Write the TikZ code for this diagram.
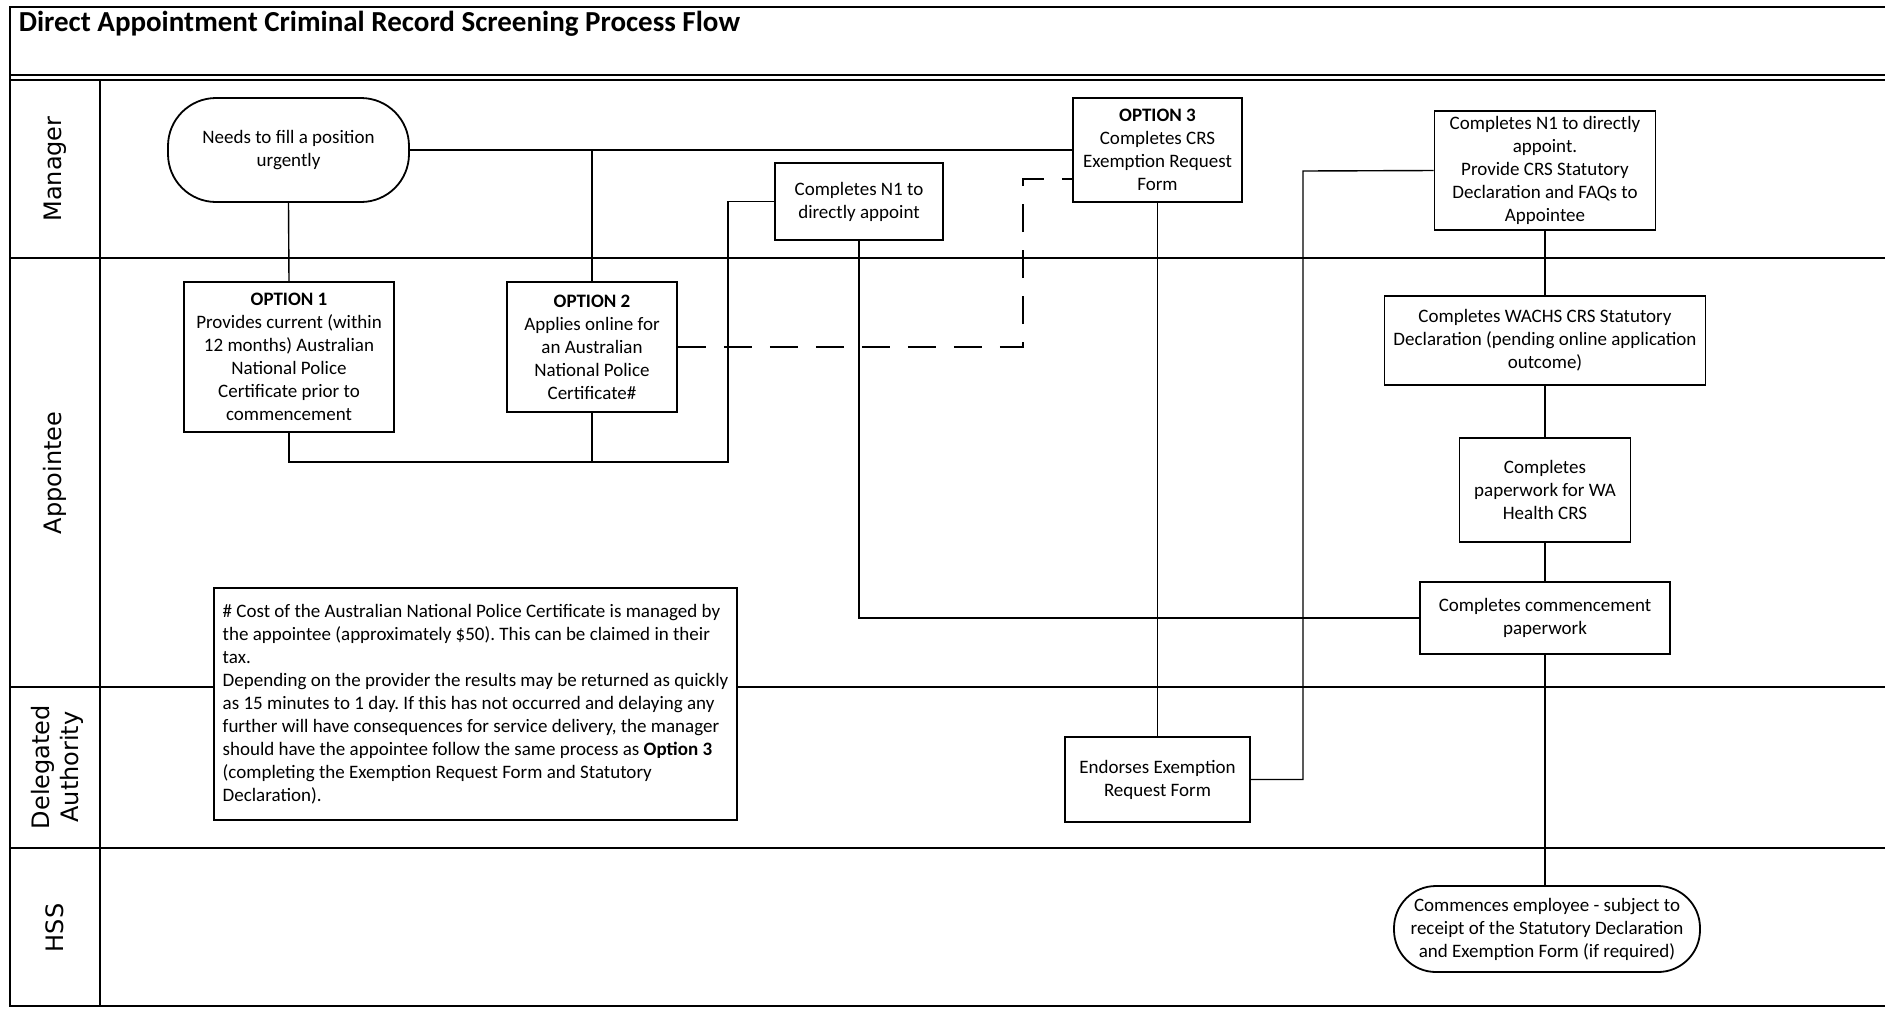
\documentclass[tikz,border=0pt]{standalone}
\usepackage{fontspec}
\setmainfont{Carlito}
\newfontfamily\lanefont{DejaVu Sans}
\frenchspacing

\tikzset{every picture/.style={line width=0.75pt}}
\tikzset{
  lane/.style={line width=1pt},
  procbox/.style={draw, line width=0.9pt, fill=white, align=center, inner sep=1pt,
    font=\fontsize{9.5}{11.5}\selectfont},
  termbox/.style={procbox, rounded corners=#1},
  flow/.style={line width=0.7pt},
  dashflow/.style={flow, dash pattern={on 14pt off 9pt}},
  lanetext/.style={rotate=90, align=center, font=\lanefont\fontsize{12}{14.5}\selectfont},
}

\begin{document}
\begin{tikzpicture}[x=0.5pt,y=0.5pt,yscale=-1,xscale=1]
\useasboundingbox (0,0) rectangle (1885,1008);

%Shape: Frame and swimlanes
\draw [lane] (1885,7) -- (10,7) -- (10,1006) -- (1885,1006) ;
\draw [lane] (10,75) -- (1885,75) ;
\draw [lane] (10,80) -- (1885,80) ;
\draw [lane] (100,80) -- (100,1006) ;
\draw [lane] (10,258) -- (1885,258) ;
\draw [lane] (10,687) -- (1885,687) ;
\draw [lane] (10,848) -- (1885,848) ;

% Text Node
\draw (18,31) node [anchor=base west] [inner sep=0pt] (title) {\fontsize{14.5}{17}\selectfont\bfseries Direct Appointment Criminal Record Screening Process Flow};
% Text Node
\draw (55,169) node [lanetext] (lmgr) {Manager};
% Text Node
\draw (55,473) node [lanetext] (lapp) {Appointee};
% Text Node
\draw (57,767) node [lanetext] (ldel) {Delegated\\Authority};
% Text Node
\draw (55,928) node [lanetext] (lhss) {HSS};

%Shape: Terminator
\draw (288.5,150) node [termbox=24pt, minimum width=120.5pt, minimum height=52pt] (start) {Needs to fill a position\\urgently};
%Shape: Rectangle
\draw (289,357) node [procbox, minimum width=105pt, minimum height=75pt] (opt1) {\textbf{OPTION 1}\\Provides current (within\\12 months) Australian\\National Police\\Certificate prior to\\commencement};
%Shape: Rectangle
\draw (592,347) node [procbox, minimum width=85pt, minimum height=65pt] (opt2) {\textbf{OPTION 2}\\Applies online for\\an Australian\\National Police\\Certificate\#};
%Shape: Rectangle
\draw (859,201.5) node [procbox, minimum width=84pt, minimum height=38.5pt] (n1) {Completes N1 to\\directly appoint};
%Shape: Rectangle
\draw (1157.5,150) node [procbox, minimum width=84.5pt, minimum height=52pt] (opt3) {\textbf{OPTION 3}\\Completes CRS\\Exemption Request\\Form};
%Shape: Rectangle
\draw (1545,170.5) node [procbox, minimum width=110.5pt, minimum height=59.5pt] (rbox) {Completes N1 to directly\\appoint.\\Provide CRS Statutory\\Declaration and FAQs to\\Appointee};
%Shape: Rectangle
\draw (1545,340.5) node [procbox, minimum width=160.5pt, minimum height=44.5pt] (wachs) {Completes WACHS CRS Statutory\\Declaration (pending online application\\outcome)};
%Shape: Rectangle
\draw (1545,490) node [procbox, minimum width=85.5pt, minimum height=52pt] (wahealth) {Completes\\paperwork for WA\\Health CRS};
%Shape: Rectangle
\draw (1545,618) node [procbox, minimum width=125pt, minimum height=36pt] (commence) {Completes commencement\\paperwork};
%Shape: Rectangle
\draw (1157.5,779.5) node [procbox, minimum width=92.5pt, minimum height=42.5pt] (endorse) {Endorses Exemption\\Request Form};
%Shape: Terminator
\draw (1547,929) node [termbox=21pt, minimum width=153pt, minimum height=43pt] (hssend) {Commences employee - subject to\\receipt of the Statutory Declaration\\and Exemption Form (if required)};

%Straight Lines
\coordinate (j1) at (728,462) ;
\coordinate (dk) at (1023,179) ;
\coordinate (j2) at (1303,171) ;
\draw [flow] (start.east) -- (opt3.west) ;
\draw [flow] (start.east -| opt2.north) -- (opt2.north) ;
\draw [flow] (start.south) -- (opt1.north) ;
\draw [flow] (opt1.south) |- (j1) |- (n1.west) ;
\draw [flow] (opt2.south) -- (opt2.south |- j1) ;
\draw [flow] (n1.south) |- (commence.west) ;
\draw [dashflow] (opt2.east) -| (dk) -- (dk -| opt3.west) ;
\draw [flow] (opt3.south) -- (endorse.north) ;
\draw [flow] (endorse.east) -| (j2) -- (rbox.west) ;
\draw [flow] (rbox.south) -- (wachs.north) ;
\draw [flow] (wachs.south) -- (wahealth.north) ;
\draw [flow] (wahealth.south) -- (commence.north) ;
\draw [flow] (commence.south) -- (commence.south |- hssend.north) ;

%Shape: Rectangle
\draw (475.5,704) node [procbox, align=left, inner xsep=2pt, minimum width=261.5pt, minimum height=116pt] (note) {\# Cost of the Australian National Police Certificate is managed by\\the appointee (approximately \$50). This can be claimed in their\\tax.\\Depending on the provider the results may be returned as quickly\\as 15 minutes to 1 day. If this has not occurred and delaying any\\further will have consequences for service delivery, the manager\\should have the appointee follow the same process as \textbf{Option 3}\\(completing the Exemption Request Form and Statutory\\Declaration).};

\end{tikzpicture}
\end{document}
